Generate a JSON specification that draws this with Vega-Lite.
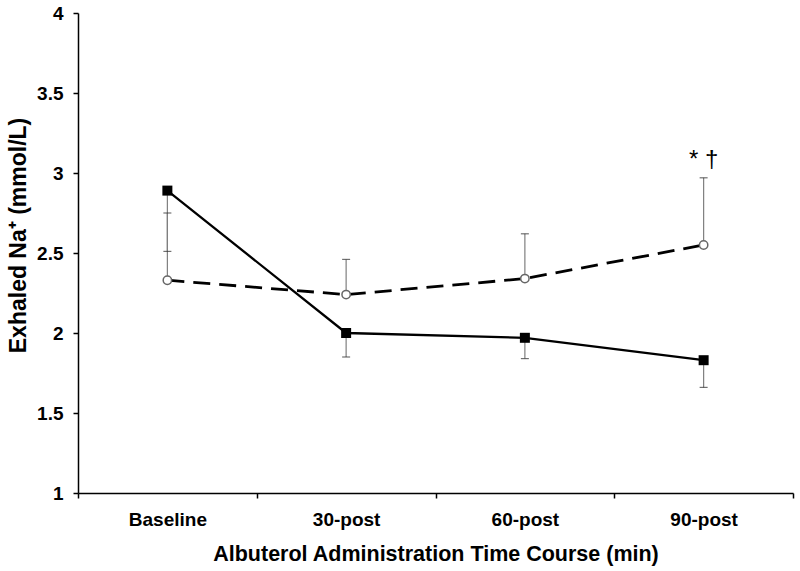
{
  "$schema": "https://vega.github.io/schema/vega-lite/v6.json",
  "width": 715,
  "height": 480,
  "autosize": {"type": "none"},
  "padding": {"left": 78, "top": 13, "right": 7, "bottom": 78},
  "background": "white",
  "config": {
    "view": {"stroke": null},
    "font": "Liberation Sans",
    "axis": {"grid": false, "domainColor": "#000000", "tickColor": "#000000", "domainWidth": 1.5, "tickWidth": 1.5, "labelColor": "#000000", "titleColor": "#000000", "labelFont": "Liberation Sans", "titleFont": "Liberation Sans", "labelFontWeight": "bold", "titleFontWeight": "bold"}
  },
  "data": {
    "values": [
      {"time": "Baseline", "group": "A", "mean": 2.89, "err": 2.51},
      {"time": "30-post", "group": "A", "mean": 2.0, "err": 1.85},
      {"time": "60-post", "group": "A", "mean": 1.97, "err": 1.84},
      {"time": "90-post", "group": "A", "mean": 1.83, "err": 1.66},
      {"time": "Baseline", "group": "B", "mean": 2.33, "err": 2.75},
      {"time": "30-post", "group": "B", "mean": 2.24, "err": 2.46},
      {"time": "60-post", "group": "B", "mean": 2.34, "err": 2.62},
      {"time": "90-post", "group": "B", "mean": 2.55, "err": 2.97}
    ]
  },
  "encoding": {
    "x": {
      "field": "time", "type": "nominal",
      "sort": ["Baseline", "30-post", "60-post", "90-post"],
      "scale": {"type": "band", "paddingInner": 0, "paddingOuter": 0},
      "axis": {"title": "Albuterol Administration Time Course (min)", "labelAngle": 0, "labelFontSize": 19, "titleFontSize": 21.5, "tickBand": "extent", "tickSize": 5, "labelPadding": 12, "titlePadding": 14}
    }
  },
  "layer": [
    {
      "mark": {"type": "rule", "color": "#7f7f7f", "strokeWidth": 1.2},
      "encoding": {
        "y": {"field": "mean", "type": "quantitative", "scale": {"domain": [1, 4]},
          "axis": {"title": "Exhaled Na\u207a (mmol/L)", "values": [1, 1.5, 2, 2.5, 3, 3.5, 4], "format": ".1~f", "labelFontSize": 19, "titleFontSize": 23, "tickSize": 5, "labelPadding": 10, "titlePadding": 6, "titleY": 222}},
        "y2": {"field": "err"}
      }
    },
    {
      "mark": {"type": "tick", "color": "#333333", "thickness": 1.2, "size": 8, "orient": "horizontal"},
      "encoding": {"y": {"field": "err", "type": "quantitative"}}
    },
    {
      "transform": [{"filter": "datum.group === 'B'"}],
      "mark": {"type": "line", "color": "#000000", "strokeWidth": 2.8, "strokeDash": [17, 9]},
      "encoding": {"y": {"field": "mean", "type": "quantitative"}}
    },
    {
      "transform": [{"filter": "datum.group === 'A'"}],
      "mark": {"type": "line", "color": "#000000", "strokeWidth": 2.3},
      "encoding": {"y": {"field": "mean", "type": "quantitative"}}
    },
    {
      "transform": [{"filter": "datum.group === 'B'"}],
      "mark": {"type": "point", "shape": "circle", "filled": true, "fill": "#ffffff", "stroke": "#666666", "strokeWidth": 1.5, "size": 70, "opacity": 1},
      "encoding": {"y": {"field": "mean", "type": "quantitative"}}
    },
    {
      "transform": [{"filter": "datum.group === 'A'"}],
      "mark": {"type": "point", "shape": "square", "filled": true, "color": "#000000", "size": 100, "opacity": 1},
      "encoding": {"y": {"field": "mean", "type": "quantitative"}}
    },
    {
      "data": {"values": [{"time": "90-post", "y": 3.08, "label": "* \u2020"}]},
      "mark": {"type": "text", "fontSize": 24, "color": "#000000", "baseline": "middle", "align": "center"},
      "encoding": {"y": {"field": "y", "type": "quantitative"}, "text": {"field": "label"}}
    }
  ]
}
